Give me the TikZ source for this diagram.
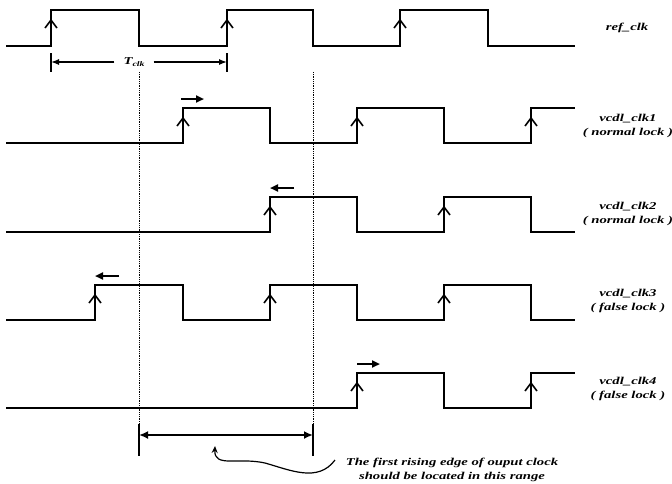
\documentclass[tikz,border=0pt]{standalone}
\usepackage{fontspec}
\newfontfamily\lblfont[FakeStretch=1.4]{Liberation Serif}
\usetikzlibrary{arrows.meta}

\tikzset{
    wave/.style={line width=2.6pt, line join=miter},
    guide/.style={densely dotted, line width=0.8pt},
    tick/.style={line width=1.8pt},
    dimline/.style={line width=1.3pt, -{Latex[length=8pt,width=6pt]}},
    rangeline/.style={line width=2pt, {Latex[length=9pt,width=8pt]}-{Latex[length=9pt,width=8pt]}},
    drift/.style={line width=2.2pt, -{Triangle[length=8pt,width=7pt]}},
    curvy/.style={line width=1.2pt, -{Stealth[length=7pt,width=6pt]}},
    lbl/.style={font=\lblfont\bfseries\itshape\fontsize{10.5}{13.5}\selectfont, align=center},
    risemark/.pic={\draw[line width=1.6pt] (-6,8) -- (0,0) -- (6,8);}
}

\begin{document}
\begin{tikzpicture}[x=1pt, y=-1pt]
    \useasboundingbox (0,0) rectangle (672,483);

    % Draw the waveforms
    \draw[wave] (6,46) -- (51,46) -- (51,10) -- (139,10) -- (139,46) -- (227,46) -- (227,10) -- (313,10) -- (313,46) -- (400,46) -- (400,10) -- (488,10) -- (488,46) -- (575,46); % ref_clk
    \draw[wave] (6,143) -- (183,143) -- (183,108) -- (270,108) -- (270,143) -- (357,143) -- (357,108) -- (444,108) -- (444,143) -- (531,143) -- (531,108) -- (575,108); % vcdl_clk1
    \draw[wave] (6,232) -- (270,232) -- (270,197) -- (357,197) -- (357,232) -- (444,232) -- (444,197) -- (531,197) -- (531,232) -- (575,232); % vcdl_clk2
    \draw[wave] (6,320) -- (95,320) -- (95,285) -- (183,285) -- (183,320) -- (270,320) -- (270,285) -- (357,285) -- (357,320) -- (444,320) -- (444,285) -- (531,285) -- (531,320) -- (575,320); % vcdl_clk3
    \draw[wave] (6,408) -- (357,408) -- (357,373) -- (444,373) -- (444,408) -- (531,408) -- (531,373) -- (575,373); % vcdl_clk4

    % Mark the rising edges
    \foreach \x in {51,227,400} \pic at (\x,20) {risemark};
    \foreach \x in {183,357,531} \pic at (\x,118) {risemark};
    \foreach \x in {270,444} \pic at (\x,207) {risemark};
    \foreach \x in {95,270,444} \pic at (\x,295) {risemark};
    \foreach \x in {357,531} \pic at (\x,383) {risemark};

    % Draw the shift arrows
    \draw[drift] (181,99) -- (204,99); % vcdl_clk1 moves right
    \draw[drift] (294,188) -- (270,188); % vcdl_clk2 moves left
    \draw[drift] (119,276) -- (95,276); % vcdl_clk3 moves left
    \draw[drift] (357,364) -- (380,364); % vcdl_clk4 moves right

    % Draw the dotted guides
    \draw[guide] (139,72) -- (139,456);
    \draw[guide] (313,72) -- (313,456);

    % Draw the clock period
    \node[lbl, inner xsep=9pt] (tclk) at (134,62) {T\raisebox{-1.5pt}{\fontsize{7}{7}\selectfont clk}};
    \coordinate (ta) at (51,62);
    \coordinate (tb) at (227,62);
    \draw[tick] (51,53) -- (51,72);
    \draw[tick] (227,53) -- (227,72);
    \draw[dimline] (tclk) -- (ta);
    \draw[dimline] (tclk) -- (tb);

    % Draw the lock range
    \coordinate (ra) at (139,435);
    \coordinate (rb) at (313,435);
    \draw[tick] (139,424) -- (139,456);
    \draw[tick] (313,424) -- (313,456);
    \draw[rangeline] (ra) -- (rb);

    % Draw the signal labels
    \node[lbl] (l0) at (627,28) {ref\_clk};
    \node[lbl] (l1) at (628,126) {vcdl\_clk1\\( normal lock )};
    \node[lbl] (l2) at (628,214) {vcdl\_clk2\\( normal lock )};
    \node[lbl] (l3) at (628,301) {vcdl\_clk3\\( false lock )};
    \node[lbl] (l4) at (628,389) {vcdl\_clk4\\( false lock )};

    % Draw the note and its pointer
    \node[lbl] (note) at (452,470) {The first rising edge of ouput clock\\should be located in this range};
    \coordinate (cs) at (335,460);
    \draw[curvy] (cs) .. controls (318,483) and (290,470) .. (265,463) .. controls (238,457) and (214,468) .. (215,446);
\end{tikzpicture}
\end{document}
